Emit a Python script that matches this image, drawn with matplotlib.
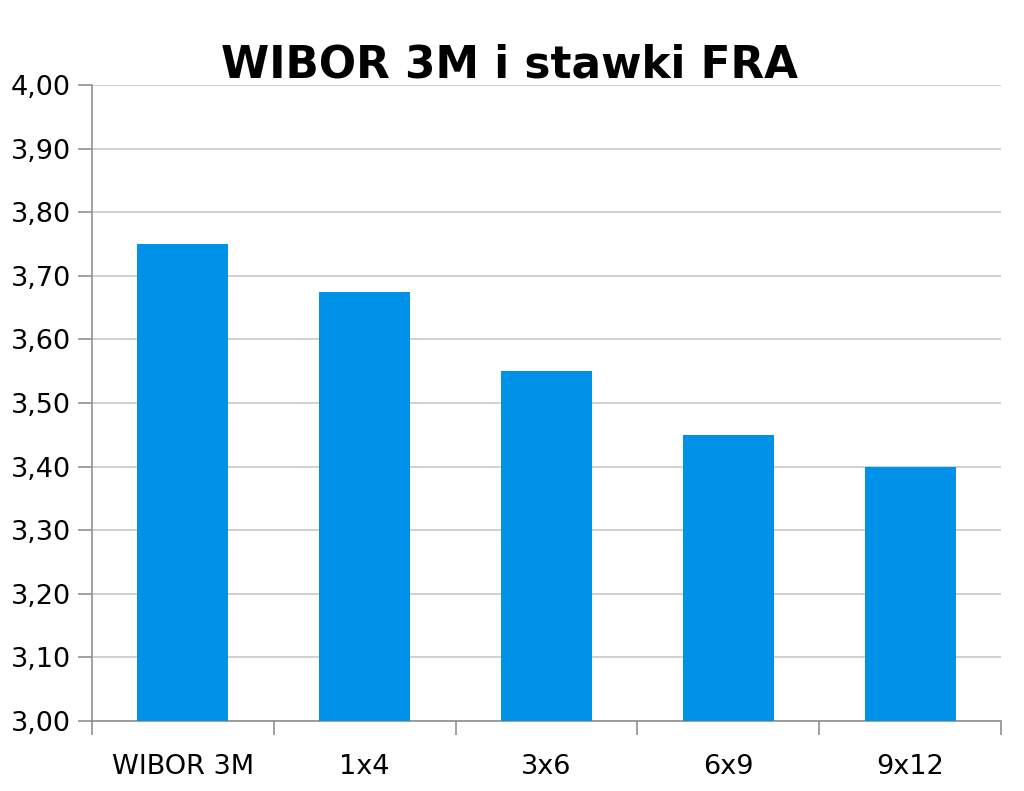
import matplotlib
matplotlib.use("Agg")
import matplotlib.pyplot as plt
from matplotlib.ticker import MultipleLocator, FuncFormatter

categories = ["WIBOR 3M", "1x4", "3x6", "6x9", "9x12"]
values = [3.75, 3.675, 3.55, 3.45, 3.40]

fig = plt.figure(figsize=(10.24, 7.91), dpi=100)
ax = fig.add_axes([0.0898, 0.0885, 0.8877, 0.804])

ax.bar(range(len(categories)), values, width=0.5, color="#0091E9", zorder=3)

ax.set_ylim(3.0, 4.0)
ax.set_xlim(-0.5, len(categories) - 0.5)
ax.yaxis.set_major_locator(MultipleLocator(0.1))
ax.yaxis.set_major_formatter(FuncFormatter(lambda v, p: f"{v:.2f}".replace(".", ",")))
ax.grid(axis="y", color="#c8c8c8", linewidth=1.2, zorder=0)

# category boundaries as major ticks, labels centred on bars
ax.set_xticks([i + 0.5 for i in range(-1, len(categories))])
ax.set_xticklabels([])
ax.set_xticks(range(len(categories)), minor=True)
ax.set_xticklabels(categories, minor=True)
ax.tick_params(axis="x", which="minor", length=0, pad=24, labelsize=19.5)
ax.tick_params(axis="x", which="major", length=10, color="#909090", width=1.2)
ax.tick_params(axis="y", length=10, color="#909090", width=1.2, labelsize=19.5, pad=5)

for side in ["top", "right"]:
    ax.spines[side].set_visible(False)
for side in ["left", "bottom"]:
    ax.spines[side].set_color("#909090")
    ax.spines[side].set_linewidth(1.2)

fig.text(0.498, 0.918, "WIBOR 3M i stawki FRA", ha="center", va="center",
         fontsize=31.5, fontweight="bold")

fig.savefig("out.png", dpi=100)
